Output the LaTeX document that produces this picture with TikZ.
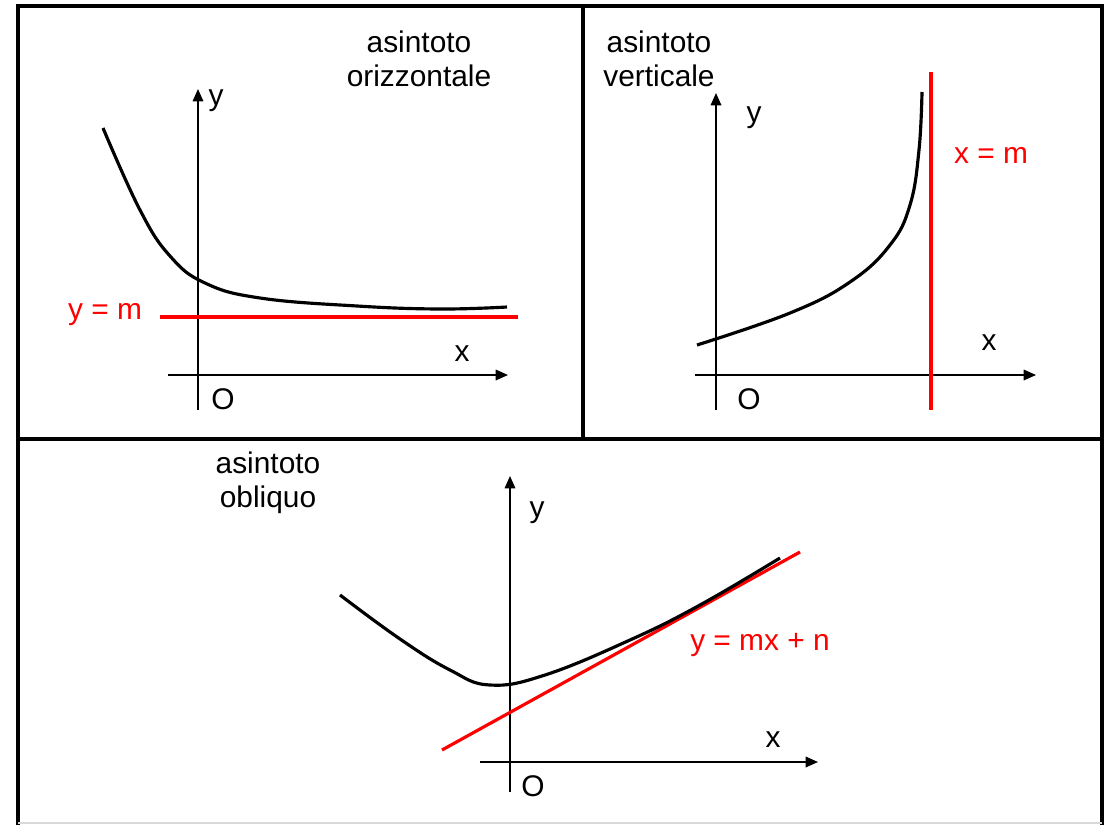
\documentclass[tikz,border=0pt]{standalone}
\usepackage{fontspec}
\setmainfont{Liberation Sans}
\usetikzlibrary{arrows.meta}

\tikzset{
  frame/.style={line width=2.3pt},
  axis/.style={line width=0.9pt,-{Triangle[length=7pt,width=6pt]}},
  curve/.style={line width=1.8pt},
  asym/.style={red,line width=1.8pt},
  lbl/.style={font=\fontsize{17}{19.5}\selectfont,inner sep=0pt},
}

\begin{document}
\begin{tikzpicture}[x=0.02cm,y=-0.02cm]

\useasboundingbox (0,0) rectangle (1109,825);

% cornice e divisioni
\draw[frame] (18,825) -- (18,6) -- (1102,6) -- (1102,825);
\draw[frame] (18,439) -- (1102,439);
\draw[frame] (583,6) -- (583,439);
\draw[gray!30,line width=0.6pt] (18,823) -- (1102,823);

% asintoto orizzontale
\node[lbl,align=center] (titOr) at (419,59) {asintoto\\orizzontale};
\draw[axis] (168,375) -- (508,375);
\draw[axis] (198,410) -- (198,89);
\node[lbl] (xOr) at (462,354) {x};
\node[lbl] (yOr) at (216,101) {y};
\node[lbl] (oOr) at (223,399) {O};
\draw[asym] (160,317) -- (518,317);
\node[lbl,red] (eqOr) at (105,315) {y = m};
\draw[curve] plot[smooth,tension=0.7] coordinates {(103,128) (140,210) (170,256) (205,283) (260,298) (357,306) (440,309) (507,307)};

% asintoto verticale
\node[lbl,align=center] (titVe) at (659,59) {asintoto\\verticale};
\draw[axis] (695,375) -- (1036,375);
\draw[axis] (716,410) -- (716,93);
\node[lbl] (xVe) at (989,343) {x};
\node[lbl] (yVe) at (754,118) {y};
\node[lbl] (oVe) at (749,399) {O};
\draw[asym] (931,72) -- (931,410);
\node[lbl,red] (eqVe) at (991,155) {x = m};
\draw[curve] plot[smooth,tension=0.7] coordinates {(697,345) (790,313) (850,282) (890,245) (910,205) (919,150) (922,92)};

% asintoto obliquo
\node[lbl,align=center] (titOb) at (268,483) {asintoto\\obliquo};
\draw[axis] (480,762) -- (818,762);
\draw[axis] (510,792) -- (510,476);
\node[lbl] (xOb) at (773,740) {x};
\node[lbl] (yOb) at (537,513) {y};
\node[lbl] (oOb) at (533,786) {O};
\draw[asym] (442,750) -- (800,552);
\node[lbl,red] (eqOb) at (760,645) {y = mx + n};
\draw[curve] plot[smooth,tension=0.7] coordinates {(340,595) (400,639) (450,670) (490,685) (545,675) (630,640) (700,605) (780,558)};

\end{tikzpicture}
\end{document}
